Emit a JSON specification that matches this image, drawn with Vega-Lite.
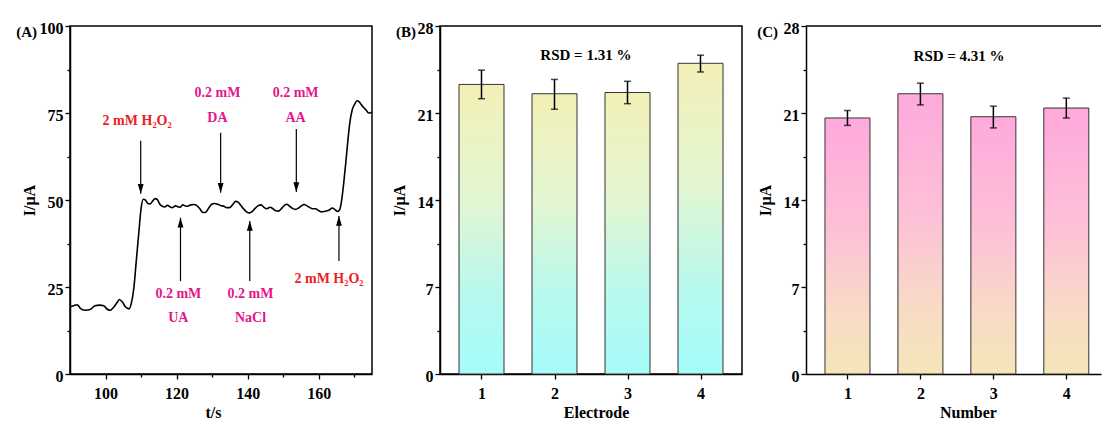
{
  "$schema": "https://vega.github.io/schema/vega-lite/v6.json",
  "background": "white",
  "padding": {"left": 15, "top": 19, "right": 0, "bottom": 0},
  "spacing": 14,
  "config": {
    "font": "Liberation Serif",
    "view": {"stroke": "black", "strokeWidth": 1.5},
    "axis": {"domainColor": "black", "domainWidth": 1.5, "tickColor": "black", "tickWidth": 1.3, "labelColor": "black", "labelFont": "Liberation Serif", "labelFontSize": 16, "labelFontWeight": "bold", "titleColor": "black", "titleFont": "Liberation Serif", "titleFontSize": 16, "titleFontWeight": "bold", "grid": false},
    "axisX": {"labelPadding": 6, "titlePadding": 3},
    "axisY": {"labelPadding": 2, "titlePadding": 3, "minExtent": 30, "maxExtent": 30, "labelBaseline": "middle", "labelOffset": 2},
    "text": {"font": "Liberation Serif", "fontWeight": "bold"}
  },
  "datasets": {
    "curve": [
      {"t": 90.0, "I": 19.3}, {"t": 91.0, "I": 19.6}, {"t": 92.0, "I": 19.9}, {"t": 93.0, "I": 18.8}, {"t": 94.4, "I": 18.3},
      {"t": 95.8, "I": 18.6}, {"t": 97.0, "I": 19.6}, {"t": 98.3, "I": 19.8}, {"t": 99.5, "I": 19.6}, {"t": 100.5, "I": 18.6},
      {"t": 101.3, "I": 18.3}, {"t": 102.3, "I": 19.2}, {"t": 103.3, "I": 20.6}, {"t": 103.9, "I": 21.4}, {"t": 104.8, "I": 20.6},
      {"t": 105.6, "I": 19.3}, {"t": 106.6, "I": 18.7}, {"t": 107.3, "I": 20.5}, {"t": 108.0, "I": 25.0}, {"t": 108.7, "I": 33.0},
      {"t": 109.4, "I": 41.0}, {"t": 110.0, "I": 47.5}, {"t": 110.6, "I": 50.2}, {"t": 111.2, "I": 50.0}, {"t": 111.9, "I": 49.0},
      {"t": 112.6, "I": 48.9}, {"t": 113.2, "I": 49.6}, {"t": 114.0, "I": 50.4}, {"t": 114.6, "I": 50.1}, {"t": 115.3, "I": 48.8},
      {"t": 116.0, "I": 48.2}, {"t": 116.7, "I": 48.0}, {"t": 117.4, "I": 48.5}, {"t": 118.2, "I": 48.0}, {"t": 118.9, "I": 47.8},
      {"t": 119.6, "I": 48.3}, {"t": 120.3, "I": 48.1}, {"t": 121.0, "I": 47.9}, {"t": 121.7, "I": 48.6}, {"t": 122.4, "I": 48.3},
      {"t": 123.1, "I": 48.2}, {"t": 124.0, "I": 48.6}, {"t": 124.9, "I": 48.7}, {"t": 125.7, "I": 48.4}, {"t": 126.6, "I": 47.4},
      {"t": 127.4, "I": 46.4}, {"t": 128.2, "I": 46.5}, {"t": 129.0, "I": 47.6}, {"t": 129.8, "I": 48.7}, {"t": 130.7, "I": 49.0},
      {"t": 131.6, "I": 48.8}, {"t": 132.4, "I": 48.4}, {"t": 133.3, "I": 48.2}, {"t": 134.1, "I": 47.8}, {"t": 134.9, "I": 47.8},
      {"t": 135.8, "I": 48.7}, {"t": 136.6, "I": 49.6}, {"t": 137.3, "I": 49.4}, {"t": 138.1, "I": 48.4}, {"t": 138.9, "I": 47.4},
      {"t": 139.7, "I": 46.6}, {"t": 140.5, "I": 46.3}, {"t": 141.3, "I": 46.7}, {"t": 142.1, "I": 47.6}, {"t": 142.9, "I": 48.3},
      {"t": 143.8, "I": 48.6}, {"t": 144.6, "I": 47.9}, {"t": 145.4, "I": 47.5}, {"t": 146.3, "I": 47.9}, {"t": 147.1, "I": 47.5},
      {"t": 147.9, "I": 46.9}, {"t": 148.7, "I": 46.8}, {"t": 149.5, "I": 47.5}, {"t": 150.3, "I": 48.4}, {"t": 151.0, "I": 48.8},
      {"t": 151.8, "I": 48.2}, {"t": 152.6, "I": 47.6}, {"t": 153.4, "I": 47.3}, {"t": 154.2, "I": 47.6}, {"t": 155.0, "I": 48.2},
      {"t": 155.9, "I": 48.7}, {"t": 156.7, "I": 48.3}, {"t": 157.5, "I": 47.8}, {"t": 158.3, "I": 47.5}, {"t": 159.1, "I": 47.5},
      {"t": 159.9, "I": 47.0}, {"t": 160.7, "I": 46.6}, {"t": 161.5, "I": 46.7}, {"t": 162.3, "I": 46.9}, {"t": 163.1, "I": 47.2},
      {"t": 163.8, "I": 47.7}, {"t": 164.5, "I": 47.3}, {"t": 165.3, "I": 46.7}, {"t": 165.9, "I": 47.2}, {"t": 166.4, "I": 49.5},
      {"t": 167.0, "I": 54.5}, {"t": 167.6, "I": 60.5}, {"t": 168.2, "I": 67.0}, {"t": 168.8, "I": 72.5}, {"t": 169.4, "I": 75.8},
      {"t": 170.1, "I": 77.5}, {"t": 170.8, "I": 78.5}, {"t": 171.4, "I": 78.2}, {"t": 172.0, "I": 77.4}, {"t": 172.7, "I": 76.5},
      {"t": 173.4, "I": 75.8}, {"t": 174.0, "I": 75.0}, {"t": 174.6, "I": 75.1}, {"t": 175.0, "I": 75.3}
    ],
    "arrows": [
      {"t": 109.9, "tail": 67.0, "tip": 51.8, "dir": "down"},
      {"t": 132.4, "tail": 69.3, "tip": 52.1, "dir": "down"},
      {"t": 153.7, "tail": 70.4, "tip": 52.3, "dir": "down"},
      {"t": 121.1, "tail": 26.7, "tip": 44.9, "dir": "up"},
      {"t": 140.6, "tail": 26.7, "tip": 44.0, "dir": "up"},
      {"t": 165.7, "tail": 32.5, "tip": 45.4, "dir": "up"}
    ],
    "notes": [
      {"t": 108.9, "I": 72.7, "txt": "2 mM  H₂O₂", "kind": "H2O2"},
      {"t": 131.5, "I": 80.8, "txt": "0.2 mM", "kind": "other"},
      {"t": 131.5, "I": 73.6, "txt": "DA", "kind": "other"},
      {"t": 153.5, "I": 80.8, "txt": "0.2 mM", "kind": "other"},
      {"t": 153.5, "I": 73.6, "txt": "AA", "kind": "other"},
      {"t": 120.5, "I": 22.9, "txt": "0.2 mM", "kind": "other"},
      {"t": 120.5, "I": 16.2, "txt": "UA", "kind": "other"},
      {"t": 140.8, "I": 22.9, "txt": "0.2 mM", "kind": "other"},
      {"t": 140.8, "I": 16.2, "txt": "NaCl", "kind": "other"},
      {"t": 162.9, "I": 27.4, "txt": "2 mM  H₂O₂", "kind": "H2O2"}
    ],
    "barsB": [
      {"e": 1, "v": 23.3, "lo": 22.15, "hi": 24.45},
      {"e": 2, "v": 22.55, "lo": 21.3, "hi": 23.7},
      {"e": 3, "v": 22.65, "lo": 21.75, "hi": 23.55},
      {"e": 4, "v": 25.0, "lo": 24.3, "hi": 25.65}
    ],
    "barsC": [
      {"n": 1, "v": 20.6, "lo": 20.0, "hi": 21.2},
      {"n": 2, "v": 22.55, "lo": 21.65, "hi": 23.4},
      {"n": 3, "v": 20.7, "lo": 19.8, "hi": 21.55},
      {"n": 4, "v": 21.4, "lo": 20.6, "hi": 22.2}
    ]
  },
  "hconcat": [
    {
      "width": 302,
      "height": 348,
      "layer": [
        {
          "data": {"name": "curve"},
          "mark": {"type": "line", "color": "black", "strokeWidth": 1.6, "interpolate": "monotone"},
          "encoding": {
            "x": {"field": "t", "type": "quantitative", "title": "t/s", "scale": {"domain": [90, 175], "nice": false, "zero": false},
              "axis": {"values": [100, 110, 120, 130, 140, 150, 160, 170], "format": "d", "labelExpr": "datum.value % 20 === 0 ? datum.label : ''", "tickSize": {"condition": {"test": "datum.value % 20 !== 0", "value": 3}, "value": 5}, "titleX": 143}},
            "y": {"field": "I", "type": "quantitative", "title": "I/μA", "scale": {"domain": [0, 100], "nice": false},
              "axis": {"values": [0, 12.5, 25, 37.5, 50, 62.5, 75, 87.5, 100], "labelExpr": "datum.value % 25 === 0 ? datum.label : ''", "tickSize": {"condition": {"test": "datum.value % 25 !== 0", "value": 3}, "value": 5}}}
          }
        },
        {
          "data": {"name": "arrows"},
          "mark": {"type": "rule", "color": "black", "strokeWidth": 1.2},
          "encoding": {
            "x": {"field": "t", "type": "quantitative", "title": "t/s"},
            "y": {"field": "tail", "type": "quantitative", "title": "I/μA"},
            "y2": {"field": "tip"}
          }
        },
        {
          "data": {"name": "arrows"},
          "transform": [{"filter": "datum.dir === 'down'"}],
          "mark": {"type": "point", "shape": "M-0.3,-1L0,0L0.3,-1Z", "filled": true, "color": "black", "size": 380, "opacity": 1},
          "encoding": {
            "x": {"field": "t", "type": "quantitative", "title": "t/s"},
            "y": {"field": "tip", "type": "quantitative", "title": "I/μA"}
          }
        },
        {
          "data": {"name": "arrows"},
          "transform": [{"filter": "datum.dir === 'up'"}],
          "mark": {"type": "point", "shape": "M-0.3,1L0,0L0.3,1Z", "filled": true, "color": "black", "size": 380, "opacity": 1},
          "encoding": {
            "x": {"field": "t", "type": "quantitative", "title": "t/s"},
            "y": {"field": "tip", "type": "quantitative", "title": "I/μA"}
          }
        },
        {
          "data": {"name": "notes"},
          "mark": {"type": "text", "fontSize": 14, "fontWeight": "bold", "baseline": "middle", "align": "center"},
          "encoding": {
            "x": {"field": "t", "type": "quantitative", "title": "t/s"},
            "y": {"field": "I", "type": "quantitative", "title": "I/μA"},
            "text": {"field": "txt"},
            "color": {"field": "kind", "type": "nominal", "scale": {"domain": ["H2O2", "other"], "range": ["#ec1c24", "#e3168b"]}, "legend": null}
          }
        },
        {
          "data": {"values": [{"panel": "(A)"}]},
          "mark": {"type": "text", "align": "right", "baseline": "middle", "dx": -33, "dy": 6, "fontSize": 15, "fontWeight": "bold", "color": "black"},
          "encoding": {"x": {"datum": 90}, "y": {"datum": 100}, "text": {"field": "panel"}}
        }
      ]
    },
    {
      "width": 302,
      "height": 348,
      "layer": [
        {
          "data": {"name": "barsB"},
          "mark": {"type": "bar", "orient": "vertical", "width": 45, "stroke": "#333333", "strokeWidth": 1,
            "fill": {"gradient": "linear", "x1": 0, "y1": 0, "x2": 0, "y2": 1, "stops": [{"offset": 0, "color": "#f3f0b6"}, {"offset": 0.4, "color": "#e2f6d3"}, {"offset": 0.72, "color": "#b7f9ee"}, {"offset": 1, "color": "#a5fcfa"}]}},
          "encoding": {
            "x": {"field": "e", "type": "quantitative", "title": "Electrode", "scale": {"domain": [0.5, 4.5], "nice": false, "zero": false},
              "axis": {"values": [1, 1.5, 2, 2.5, 3, 3.5, 4], "format": "d", "labelExpr": "datum.value % 1 === 0 ? datum.label : ''", "tickSize": {"condition": {"test": "datum.value % 1 !== 0", "value": 3}, "value": 5}, "titleX": 156}},
            "y": {"field": "v", "type": "quantitative", "title": "I/μA", "scale": {"domain": [0, 28], "nice": false},
              "axis": {"values": [0, 3.5, 7, 10.5, 14, 17.5, 21, 24.5, 28], "labelExpr": "datum.value % 7 === 0 ? datum.label : ''", "tickSize": {"condition": {"test": "datum.value % 7 !== 0", "value": 3}, "value": 5}}}
          }
        },
        {
          "data": {"name": "barsB"},
          "mark": {"type": "rule", "color": "black", "strokeWidth": 1.5},
          "encoding": {
            "x": {"field": "e", "type": "quantitative", "title": "Electrode"},
            "y": {"field": "lo", "type": "quantitative", "title": "I/μA"},
            "y2": {"field": "hi"}
          }
        },
        {
          "data": {"name": "barsB"},
          "mark": {"type": "tick", "orient": "horizontal", "size": 7, "thickness": 1.5, "color": "black"},
          "encoding": {
            "x": {"field": "e", "type": "quantitative", "title": "Electrode"},
            "y": {"field": "lo", "type": "quantitative", "title": "I/μA"}
          }
        },
        {
          "data": {"name": "barsB"},
          "mark": {"type": "tick", "orient": "horizontal", "size": 7, "thickness": 1.5, "color": "black"},
          "encoding": {
            "x": {"field": "e", "type": "quantitative", "title": "Electrode"},
            "y": {"field": "hi", "type": "quantitative", "title": "I/μA"}
          }
        },
        {
          "data": {"values": [{"note": "RSD = 1.31 %"}]},
          "mark": {"type": "text", "fontSize": 15, "fontWeight": "bold", "baseline": "middle", "color": "black"},
          "encoding": {"x": {"datum": 2.43}, "y": {"datum": 25.7}, "text": {"field": "note"}}
        },
        {
          "data": {"values": [{"panel": "(B)"}]},
          "mark": {"type": "text", "align": "right", "baseline": "middle", "dx": -29, "dy": 6, "fontSize": 15, "fontWeight": "bold", "color": "black"},
          "encoding": {"x": {"datum": 0.5}, "y": {"datum": 28}, "text": {"field": "panel"}}
        }
      ]
    },
    {
      "width": 295,
      "height": 348,
      "view": {"stroke": null},
      "layer": [
        {
          "data": {"name": "barsC"},
          "mark": {"type": "bar", "orient": "vertical", "width": 45, "stroke": "#333333", "strokeWidth": 1,
            "fill": {"gradient": "linear", "x1": 0, "y1": 0, "x2": 0, "y2": 1, "stops": [{"offset": 0, "color": "#ffa9dc"}, {"offset": 0.45, "color": "#fdc1d7"}, {"offset": 0.75, "color": "#f8dac6"}, {"offset": 1, "color": "#f4e6b9"}]}},
          "encoding": {
            "x": {"field": "n", "type": "quantitative", "title": "Number", "scale": {"domain": [0.5, 4.407], "nice": false, "zero": false},
              "axis": {"values": [1, 1.5, 2, 2.5, 3, 3.5, 4], "format": "d", "labelExpr": "datum.value % 1 === 0 ? datum.label : ''", "tickSize": {"condition": {"test": "datum.value % 1 !== 0", "value": 3}, "value": 5}, "titleX": 162}},
            "y": {"field": "v", "type": "quantitative", "title": "I/μA", "scale": {"domain": [0, 28], "nice": false},
              "axis": {"values": [0, 3.5, 7, 10.5, 14, 17.5, 21, 24.5, 28], "labelExpr": "datum.value % 7 === 0 ? datum.label : ''", "tickSize": {"condition": {"test": "datum.value % 7 !== 0", "value": 3}, "value": 5}}}
          }
        },
        {
          "data": {"values": [{"top": 28}]},
          "mark": {"type": "rule", "color": "black", "strokeWidth": 1.5},
          "encoding": {"y": {"field": "top", "type": "quantitative", "title": "I/μA"}}
        },
        {
          "data": {"name": "barsC"},
          "mark": {"type": "rule", "color": "black", "strokeWidth": 1.5},
          "encoding": {
            "x": {"field": "n", "type": "quantitative", "title": "Number"},
            "y": {"field": "lo", "type": "quantitative", "title": "I/μA"},
            "y2": {"field": "hi"}
          }
        },
        {
          "data": {"name": "barsC"},
          "mark": {"type": "tick", "orient": "horizontal", "size": 7, "thickness": 1.5, "color": "black"},
          "encoding": {
            "x": {"field": "n", "type": "quantitative", "title": "Number"},
            "y": {"field": "lo", "type": "quantitative", "title": "I/μA"}
          }
        },
        {
          "data": {"name": "barsC"},
          "mark": {"type": "tick", "orient": "horizontal", "size": 7, "thickness": 1.5, "color": "black"},
          "encoding": {
            "x": {"field": "n", "type": "quantitative", "title": "Number"},
            "y": {"field": "hi", "type": "quantitative", "title": "I/μA"}
          }
        },
        {
          "data": {"values": [{"note": "RSD = 4.31 %"}]},
          "mark": {"type": "text", "fontSize": 15, "fontWeight": "bold", "baseline": "middle", "color": "black"},
          "encoding": {"x": {"datum": 2.53}, "y": {"datum": 25.6}, "text": {"field": "note"}}
        },
        {
          "data": {"values": [{"panel": "(C)"}]},
          "mark": {"type": "text", "align": "right", "baseline": "middle", "dx": -33, "dy": 6, "fontSize": 15, "fontWeight": "bold", "color": "black"},
          "encoding": {"x": {"datum": 0.5}, "y": {"datum": 28}, "text": {"field": "panel"}}
        }
      ]
    }
  ]
}
